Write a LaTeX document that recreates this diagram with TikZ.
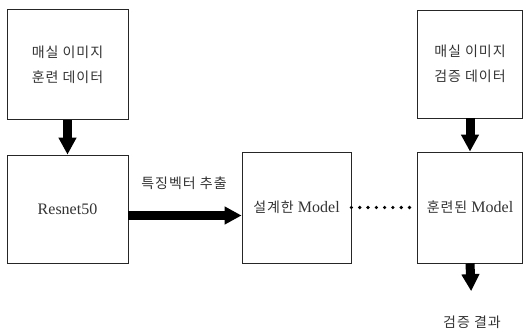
\documentclass[tikz,border=0pt]{standalone}
\usepackage{fontspec}
\setmainfont{Liberation Serif}
\newfontfamily\krfont[LetterSpace=7]{Noto Sans CJK KR}
\usetikzlibrary{positioning,arrows.meta}
\newcommand{\engtext}[1]{{\rmfamily\fontsize{16}{25}\selectfont #1}}
\tikzset{
  box/.style={
      draw=black!85,
      line width=0.8pt,
      minimum width=#1,
      minimum height=110pt,
      align=center,
      text=black!80,
      font=\krfont\fontsize{14}{25}\selectfont,
  },
  label/.style={
      text=black!80,
      font=\krfont\fontsize{14}{25}\selectfont,
  },
  bigarrow/.style={
      -{Triangle[length=17pt,width=17pt]},
      line width=9pt,
  },
  dots/.style={
      line width=3.6pt,
      line cap=round,
      dash pattern=on 0pt off 8.3pt,
  }
}

\begin{document}
\begin{tikzpicture}[x=1pt,y=-1pt]
	\useasboundingbox (0,0) rectangle (524,334);
	% left column
	\node[box=121pt] (trainbox) at (67.5,64.5) {매실 이미지\\훈련 데이터};
	\node[box=121pt,minimum height=108pt] (resnet) at (67.5,209) {\engtext{Resnet50}};
	% middle
	\node[box=109pt,minimum height=111pt] (design) at (296.5,207.5) {설계한 \engtext{Model}};
	\node[label] (featlabel) at (184,183) {특징벡터 추출};
	% right column
	\node[box=105pt,minimum height=108pt] (testbox) at (470,64) {매실 이미지\\검증 데이터};
	\node[box=105pt,minimum height=111pt] (trained) at (470,207.5) {훈련된 \engtext{Model}};
	\node[label] (result) at (472,322) {검증 결과};

	\draw[bigarrow] (trainbox.south) -- (resnet.north);
	\draw[bigarrow] ([yshift=-6.5pt]resnet.east) -- ([yshift=-6.5pt]resnet.east -| design.west);
	\draw[dots] (design.east) -- (trained.west);
	\draw[bigarrow] (testbox.south) -- (trained.north);
	\draw[bigarrow,shorten >=21pt] (trained.south) -- (result.north);
\end{tikzpicture}
\end{document}
